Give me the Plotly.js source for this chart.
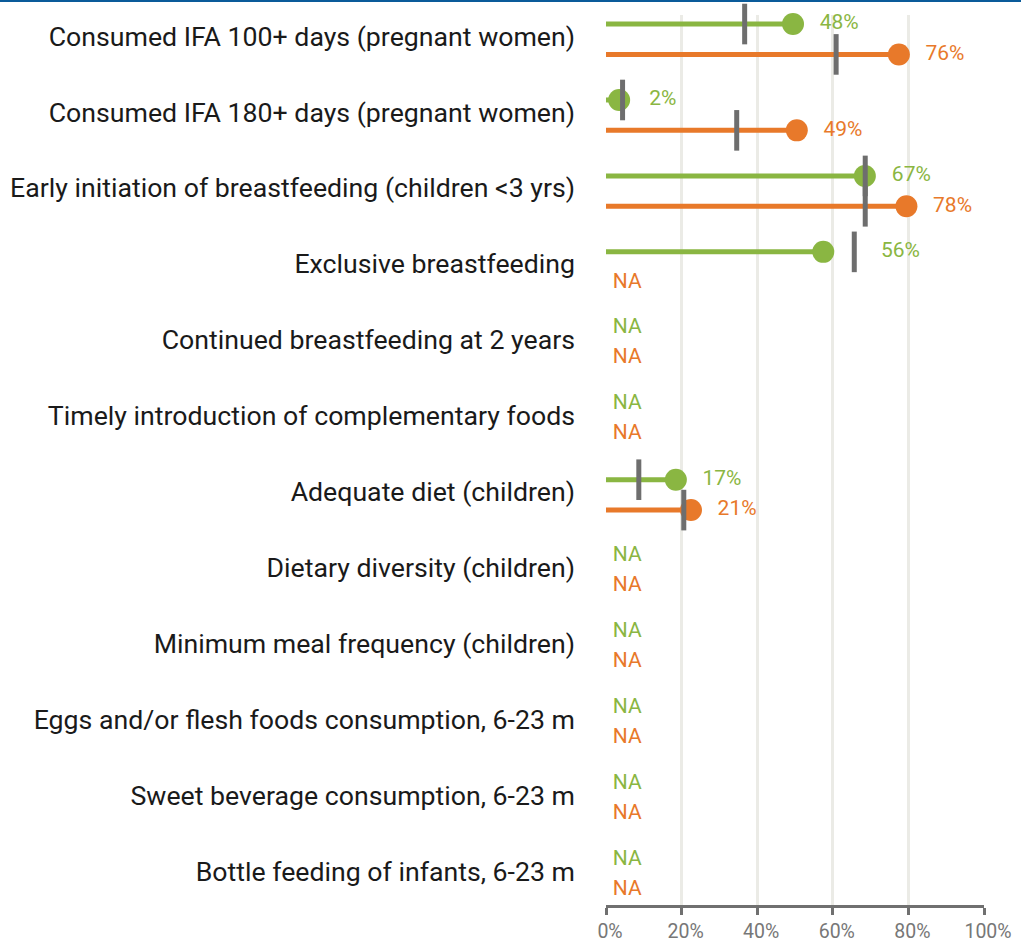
<!DOCTYPE html>
<html><head><meta charset="utf-8">
<script src="https://cdn.plot.ly/plotly-3.0.1.min.js"></script>
<style>
html,body{margin:0;padding:0;background:#fff;}
#wrap{position:relative;width:1021px;height:943px;}
#bar{position:absolute;left:0;top:0;width:1021px;height:2px;background:#0a5b9a;z-index:5;}
#chart{position:absolute;left:0;top:0;width:1021px;height:943px;}
</style></head>
<body><div id="wrap"><div id="bar"></div><div id="chart"></div></div>
<script>
const categories = [
  "Consumed IFA 100+ days (pregnant women)",
  "Consumed IFA 180+ days (pregnant women)",
  "Early initiation of breastfeeding (children <3 yrs)",
  "Exclusive breastfeeding",
  "Continued breastfeeding at 2 years",
  "Timely introduction of complementary foods",
  "Adequate diet (children)",
  "Dietary diversity (children)",
  "Minimum meal frequency (children)",
  "Eggs and/or flesh foods consumption, 6-23 m",
  "Sweet beverage consumption, 6-23 m",
  "Bottle feeding of infants, 6-23 m"
];
const greenValues  = [48, 2, 67, 56, null, null, 17, null, null, null, null, null];
const orangeValues = [76, 49, 78, null, null, null, 21, null, null, null, null, null];
const greenBench   = [35.2, 2.9, 67.1, 64.2, null, null, 7.2, null, null, null, null, null];
const orangeBench  = [59.4, 33.1, 67.1, null, null, null, 19.1, null, null, null, null, null];
const xTicks = [0, 20, 40, 60, 80, 100];

const GREEN = "#8ab642", ORANGE = "#e8792a", GREY = "#6e6e6e";
const OFF = 0.2, STEM_START = -2.2, NA_X = 1.8;
const FONT = "Roboto, 'Open Sans', sans-serif";

function seriesTraces(vals, bench, color, dy) {
  const sx = [], sy = [], dx = [], dyy = [], bx = [], by = [], lx = [], ly = [], lt = [], nx = [], ny = [];
  vals.forEach((v, i) => {
    const y = i + dy;
    if (v === null) { nx.push(NA_X); ny.push(y); return; }
    sx.push(STEM_START, v, null); sy.push(y, y, null);
    dx.push(v); dyy.push(y);
    if (bench[i] !== null) { bx.push(bench[i]); by.push(y); }
    lx.push(bench[i] !== null ? Math.max(v, bench[i]) : v); ly.push(y); lt.push(v + "%");
  });
  return [
    {x: sx, y: sy, xaxis: "x2", mode: "lines", line: {color: color, width: 5}, hoverinfo: "skip"},
    {x: dx, y: dyy, xaxis: "x2", mode: "markers", marker: {color: color, size: 22}, cliponaxis: false, hoverinfo: "skip"},
    {x: bx, y: by, xaxis: "x2", mode: "markers", marker: {symbol: "line-ns", size: 29, color: GREY, line: {color: GREY, width: 5}}, cliponaxis: false, hoverinfo: "skip"},
    {x: lx, y: ly, xaxis: "x2", mode: "markers+text", text: lt, textposition: "middle right",
     marker: {size: 41, opacity: 0}, textfont: {color: color, size: 21, family: FONT}, cliponaxis: false, hoverinfo: "skip"},
    {x: nx, y: ny, xaxis: "x", mode: "text", text: nx.map(() => "NA"), textposition: "middle right",
     textfont: {color: color, size: 21, family: FONT}, cliponaxis: false, hoverinfo: "skip"}
  ];
}

const data = [
  ...seriesTraces(greenValues, greenBench, GREEN, -OFF),
  ...seriesTraces(orangeValues, orangeBench, ORANGE, OFF)
];
const order = [4, 9, 0, 5, 1, 6, 2, 7, 3, 8];
const traces = order.map(k => data[k]);

const layout = {
  width: 1021, height: 943,
  margin: {l: 606, r: 37, t: 15, b: 38},
  showlegend: false,
  paper_bgcolor: "#fff", plot_bgcolor: "#fff",
  font: {family: FONT},
  xaxis: {
    range: [0, 100], tickvals: xTicks, ticktext: xTicks.map(t => t + "%"),
    showgrid: true, gridcolor: "#ebebe6", gridwidth: 3, zeroline: false,
    showline: true, linecolor: "#707070", linewidth: 3,
    ticks: "outside", ticklen: 7, tickwidth: 3, tickcolor: "#707070",
    ticklabelshift: 4,
    tickfont: {size: 19.5, color: "#777", family: FONT}, fixedrange: true
  },
  xaxis2: {overlaying: "x", range: [-1.48, 98.52], visible: false, fixedrange: true},
  yaxis: {
    range: [11.40, -0.319], tickvals: categories.map((c, i) => i), ticktext: categories,
    showgrid: false, zeroline: false, showline: false, ticks: "",
    ticklabelstandoff: 30, ticklabelshift: 3,
    tickfont: {size: 26.7, color: "#1a1a1a", family: FONT}, fixedrange: true
  }
};
Plotly.newPlot("chart", traces, layout, {staticPlot: true});
</script></body></html>
